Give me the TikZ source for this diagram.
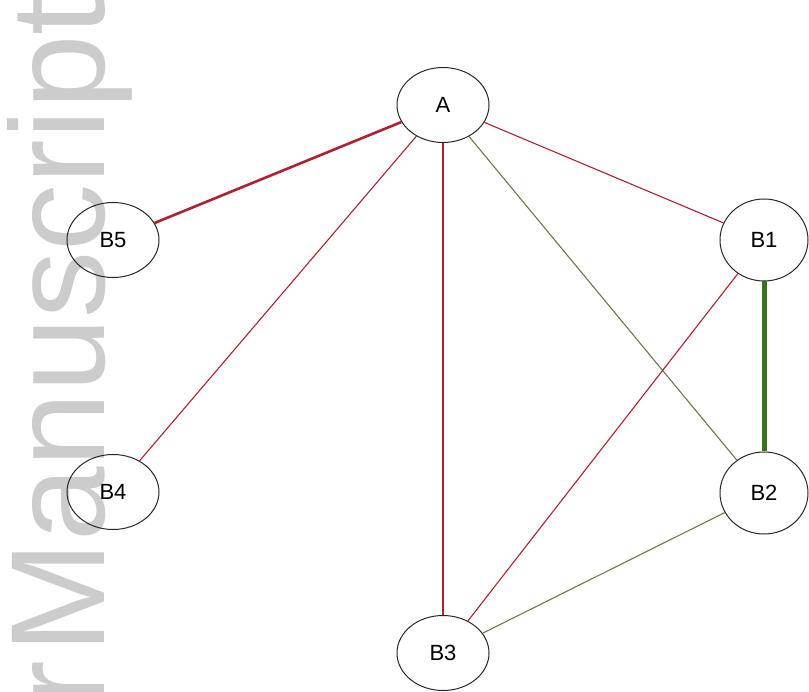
\documentclass[tikz,border=0pt]{standalone}
\usepackage{fontspec}
\setmainfont{Liberation Sans}
\usetikzlibrary{shapes.geometric}
\definecolor{edgered}{RGB}{176,32,48}
\definecolor{edgegreen}{RGB}{58,115,30}
\definecolor{edgeolive}{RGB}{105,120,80}
\definecolor{wmgray}{RGB}{204,204,204}
\begin{document}
\begin{tikzpicture}[x=1pt,y=-1pt,
  vertex/.style={ellipse, draw=black!85, line width=1pt, minimum width=92pt, minimum height=75pt, inner sep=0pt, font=\fontsize{22}{26}\selectfont},
  redthin/.style={draw=edgered, line width=1.1pt},
  redthick/.style={draw=edgered, line width=2.6pt},
  greenthin/.style={draw=edgeolive, line width=1.1pt},
  greenthick/.style={draw=edgegreen, line width=5pt}]
\useasboundingbox (0,0) rectangle (809,692);
\node[rotate=90, anchor=base west, text=wmgray, font=\fontsize{134}{150}\selectfont, inner sep=0pt] (wm) at (104,706) {r\hspace{8pt}Manuscript};
\node[vertex] (A) at (443,105) {A};
\node[vertex, minimum width=88pt, minimum height=82pt] (B1) at (764,240) {B1};
\node[vertex, minimum width=88pt, minimum height=82pt] (B2) at (764,493) {B2};
\node[vertex] (B3) at (443,653) {B3};
\node[vertex] (B4) at (113,492) {B4};
\node[vertex] (B5) at (113,240) {B5};
\draw[redthick] (A) -- (B5);
\draw[redthin] (A) -- (B4);
\draw[redthick] (A) -- (B3);
\draw[redthin] (A) -- (B1);
\draw[greenthin] (A) -- (B2);
\draw[greenthick] (B1) -- (B2);
\draw[redthin] (B1) -- (B3);
\draw[greenthin] (B2) -- (B3);
\end{tikzpicture}
\end{document}
